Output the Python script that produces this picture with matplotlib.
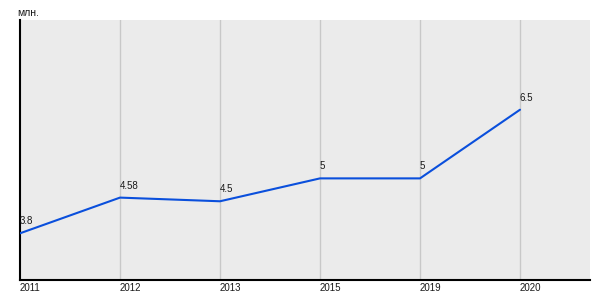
import matplotlib
matplotlib.use("Agg")
import matplotlib.pyplot as plt

years = ["2011", "2012", "2013", "2015", "2019", "2020"]
values = [3.8, 4.58, 4.5, 5, 5, 6.5]
labels = ["3.8", "4.58", "4.5", "5", "5", "6.5"]
unit = "млн."

plt.rcParams['font.family'] = ['Liberation Sans', 'DejaVu Sans']

fig = plt.figure(figsize=(6, 3), dpi=100)
ax = fig.add_axes([20/600, 20/300, 570/600, 260/300])
ax.set_facecolor('#EBEBEB')

x = list(range(len(years)))
ax.set_xlim(0, 5.7)
ax.set_ylim(2.78, 8.46)

for xi in x[1:]:
    ax.axvline(xi, color='#C8C8C8', lw=1.0, zorder=1)

ax.plot(x, values, color='#0A4FDC', lw=1.5, zorder=3, solid_capstyle='round')

for xi, v, t in zip(x, values, labels):
    ax.annotate(t, (xi, v), xytext=(0, 5), textcoords='offset points',
                ha='left', va='bottom', fontsize=7, color='#1a1a1a', zorder=4)

for s in ['top', 'right']:
    ax.spines[s].set_visible(False)
ax.spines['left'].set_color('black')
ax.spines['left'].set_linewidth(1.5)
ax.spines['bottom'].set_color('black')
ax.spines['bottom'].set_linewidth(1.5)

ax.set_yticks([])
ax.set_xticks(x)
ax.set_xticklabels(years, fontsize=7, color='#1a1a1a', ha='left')
ax.tick_params(axis='x', length=0, pad=2.5)

fig.text(17/600, 1 - 16.5/300, unit, fontsize=7.5, color='#1a1a1a', ha='left', va='baseline')

fig.savefig('out.png', dpi=100, facecolor='white')
